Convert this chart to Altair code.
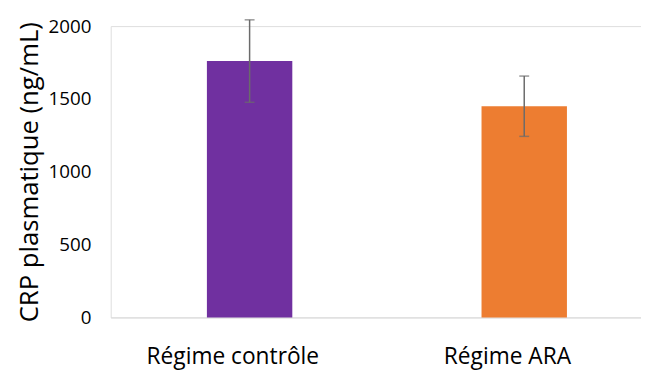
import altair as alt
import pandas as pd

categories = ["Régime contrôle", "Régime ARA"]
means = [1760, 1450]
errors = [283, 207]
colors = ["#7030A0", "#ED7D31"]

df = pd.DataFrame({
    "cat": categories,
    "mean": means,
    "lo": [m - e for m, e in zip(means, errors)],
    "hi": [m + e for m, e in zip(means, errors)],
    "color": colors,
})

FONT = "Open Sans"
x = alt.X("cat:N", sort=categories, title=None,
          scale=alt.Scale(paddingInner=0.689, paddingOuter=0.31, align=0.565),
          axis=alt.Axis(labelAngle=0, labelFontSize=23, labelFont=FONT, labelColor="#000000",
                        ticks=False, domainColor="#D9D9D9", domainWidth=1, labelPadding=29,
                        labelOffset=-17))

bars = alt.Chart(df).mark_bar().encode(
    x=x,
    y=alt.Y("mean:Q", scale=alt.Scale(domain=[0, 2000]), title="CRP plasmatique (ng/mL)",
            axis=alt.Axis(values=[0, 500, 1000, 1500, 2000], format="d", grid=False, domain=False,
                          ticks=False, labelFontSize=19, labelFont=FONT, labelColor="#000000",
                          labelPadding=20, titleFontSize=26, titleFont=FONT,
                          titleFontWeight="normal", titleColor="#000000", titlePadding=6)),
    color=alt.Color("color:N", scale=None),
)

rules = alt.Chart(df).mark_rule(color="#6b6b6b", strokeWidth=1.5).encode(
    x=alt.X("cat:N", sort=categories), y="lo:Q", y2="hi:Q")
cap_hi = alt.Chart(df).mark_tick(color="#6b6b6b", thickness=1.5, size=10, orient="horizontal").encode(
    x=alt.X("cat:N", sort=categories), y="hi:Q")
cap_lo = alt.Chart(df).mark_tick(color="#6b6b6b", thickness=1.5, size=10, orient="horizontal").encode(
    x=alt.X("cat:N", sort=categories), y="lo:Q")

chart = alt.layer(bars, rules, cap_hi, cap_lo).properties(
    width=537, height=295,
    autosize=alt.AutoSizeParams(type="none"),
    padding={"left": 104, "top": 16, "right": 0, "bottom": 58},
).configure_view(stroke=None).configure(background="#ffffff")

chart.save("out.html", embed_options={"renderer": "svg", "actions": False})
